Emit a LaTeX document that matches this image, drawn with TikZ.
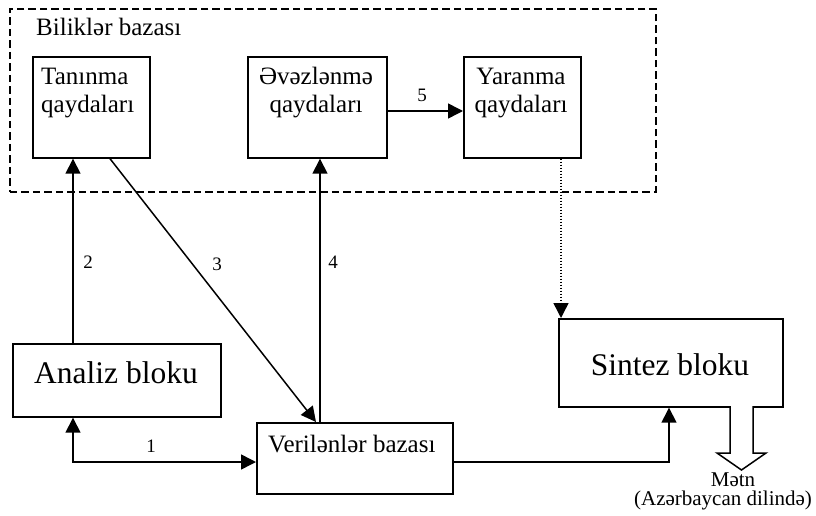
\documentclass[tikz,border=0pt]{standalone}
\usepackage{fontspec}
\setmainfont{Liberation Serif}
\usetikzlibrary{arrows.meta}
\begin{document}
\begin{tikzpicture}[x=1pt,y=-1pt,
  box/.style={draw, line width=1.7pt, inner sep=0, anchor=north west},
  tip/.tip={Triangle[length=15pt,width=15pt]},
  conn/.style={line width=1.5pt, -tip},
  lbl/.style={inner sep=0, anchor=base, font=\fontsize{19}{22}\selectfont},
  txt/.style={inner sep=0, anchor=base, font=\fontsize{25}{28}\selectfont},
  bigtxt/.style={inner sep=0, anchor=base, font=\fontsize{31.5}{36}\selectfont},
  outtxt/.style={inner sep=0, anchor=base, font=\fontsize{21}{24}\selectfont}]
\useasboundingbox (0,0) rectangle (816,516);

% knowledge base frame
\node[draw, line width=1.6pt, dash pattern=on 7.5pt off 4pt, inner sep=0, anchor=north west,
      minimum width=646pt, minimum height=183pt] (kb) at (9,8) {};
\node[txt, anchor=base west] (kbt) at (36,36) {Biliklər bazası};

% boxes
\node[box, minimum width=117pt, minimum height=101pt] (tan) at (32,56) {};
\node[box, minimum width=139pt, minimum height=101pt] (ev) at (247,56) {};
\node[box, minimum width=117pt, minimum height=101pt] (yar) at (463,56) {};
\node[box, minimum width=208pt, minimum height=73pt] (an) at (12,343) {};
\node[box, minimum width=196pt, minimum height=71pt] (ver) at (256,422) {};
\node[box, minimum width=224pt, minimum height=88pt] (sin) at (558,318) {};

% box texts
\node[txt, anchor=base west] (tan1) at (41,85) {Tanınma};
\node[txt, anchor=base west] (tan2) at (41,113) {qaydaları};
\node[txt] (ev1) at (316,85) {Əvəzlənmə};
\node[txt] (ev2) at (316,113) {qaydaları};
\node[txt] (yar1) at (521,85) {Yaranma};
\node[txt] (yar2) at (521,113) {qaydaları};
\node[bigtxt] (ant) at (116,383) {Analiz bloku};
\node[bigtxt] (sint) at (670,375) {Sintez bloku};
\node[txt, anchor=base west] (vert) at (268,452) {Verilənlər bazası};

% helper coordinates
\coordinate (x2) at (73,0);
\coordinate (x3a) at (110,0);
\coordinate (x3b) at (316,0);
\coordinate (x4) at (320,0);
\coordinate (x6) at (561,0);
\coordinate (x7) at (669,0);
\coordinate (y1) at (0,462);
\coordinate (y5) at (0,111);

% connectors
\draw[line width=1.5pt, tip-tip] (x2 |- an.south) |- (ver.west |- y1);
\draw[conn] (x2 |- an.north) -- (x2 |- tan.south);
\draw[conn] (x3a |- tan.south) -- (x3b |- ver.north);
\draw[conn] (x4 |- ver.north) -- (x4 |- ev.south);
\draw[conn] (ev.east |- y5) -- (yar.west |- y5);
\draw[line width=1.5pt, dash pattern=on 1.5pt off 1.5pt, -tip] (x6 |- yar.south) -- (x6 |- sin.north);
\draw[conn] (ver.east |- y1) -| (x7 |- sin.south);

% labels
\node[lbl] (l1) at (151,452) {1};
\node[lbl] (l2) at (88,268) {2};
\node[lbl] (l3) at (217,270) {3};
\node[lbl] (l4) at (333,268) {4};
\node[lbl] (l5) at (422,102) {5};

% output hollow arrow
\draw[line width=1.5pt, fill=white] (730,406) -- (730,453) -- (717,453) -- (741.5,470) -- (766,453) -- (753,453) -- (753,406);
\node[outtxt] (m1) at (733,486) {Mətn};
\node[outtxt] (m2) at (723,505) {(Azərbaycan dilində)};
\end{tikzpicture}
\end{document}
